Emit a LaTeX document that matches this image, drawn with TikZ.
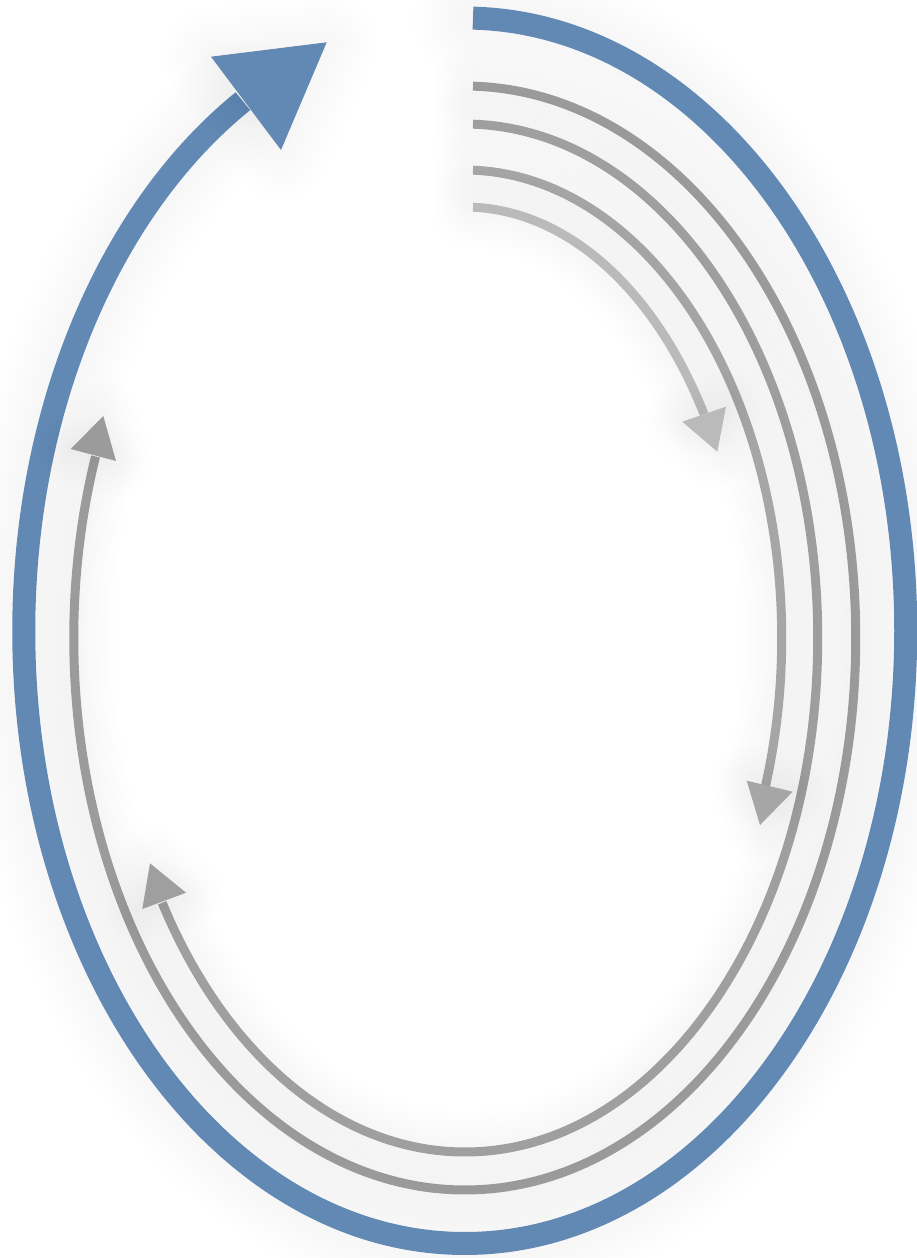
\documentclass[tikz,border=0pt]{standalone}
\usetikzlibrary{calc}
\definecolor{arrowblue}{RGB}{98,137,179}
\definecolor{grayA}{RGB}{155,155,155}
\definecolor{grayB}{RGB}{159,159,159}
\definecolor{grayC}{RGB}{166,166,166}
\definecolor{grayD}{RGB}{186,186,186}
\begin{document}
\begin{tikzpicture}[x=1pt,y=1pt,
  glowlayer/.style={draw=black,draw opacity=0.0045,line width=#1,line join=round,line cap=round},
  blueglow/.style={preaction={glowlayer=119pt},preaction={glowlayer=107pt},preaction={glowlayer=95pt},preaction={glowlayer=83pt},preaction={glowlayer=71pt},preaction={glowlayer=59pt},preaction={glowlayer=47pt},preaction={glowlayer=35pt}},
  grayglow/.style={preaction={glowlayer=81pt},preaction={glowlayer=72pt},preaction={glowlayer=63pt},preaction={glowlayer=54pt},preaction={glowlayer=45pt},preaction={glowlayer=36pt},preaction={glowlayer=27pt},preaction={glowlayer=18pt}},
  bluetriglow/.style={preaction={glowlayer=96pt},preaction={glowlayer=84pt},preaction={glowlayer=72pt},preaction={glowlayer=60pt},preaction={glowlayer=48pt},preaction={glowlayer=36pt},preaction={glowlayer=24pt},preaction={glowlayer=12pt}},
  graytriglow/.style={preaction={glowlayer=72pt},preaction={glowlayer=63pt},preaction={glowlayer=54pt},preaction={glowlayer=45pt},preaction={glowlayer=36pt},preaction={glowlayer=27pt},preaction={glowlayer=18pt},preaction={glowlayer=9pt}},
  bluearc/.style={draw=arrowblue,line width=23pt,blueglow},
  grayarc/.style={draw=#1,line width=9pt,grayglow},
  bluehead/.style={fill=arrowblue,bluetriglow},
  grayhead/.style={fill=#1,graytriglow}
]
\useasboundingbox (0,0) rectangle (917,-1258);
\coordinate (cO) at (464.75,-630.75);
\coordinate (cI) at (464.75,-638);
% outer blue cycle
\draw[bluearc] ($(cO)+(88.93:441pt and 612.75pt)$) coordinate (bS)
  arc[start angle=88.93,end angle=-239.8,x radius=441pt,y radius=612.75pt] coordinate (bE);
\coordinate (bT) at (326.7,-42.3);
\coordinate (bL) at (211,-56.7);
\coordinate (bR) at (281,-150);
\fill[bluehead] (bT) -- (bL) -- (bR) -- cycle;
% gray arc A
\draw[grayarc=grayA] ($(cI)+(88.79:391pt and 552pt)$) coordinate (aS)
  arc[start angle=88.79,end angle=-199.2,x radius=391pt,y radius=552pt] coordinate (aE);
\coordinate (aT) at (103.3,-416);
\coordinate (aL) at (70.7,-449);
\coordinate (aR) at (116,-461);
\fill[grayhead=grayA] (aT) -- (aL) -- (aR) -- cycle;
% gray arc B
\draw[grayarc=grayB] ($(cI)+(88.66:353pt and 514pt)$) coordinate (b2S)
  arc[start angle=88.66,end angle=-149,x radius=353pt,y radius=514pt] coordinate (b2E);
\coordinate (b2T) at (150,-863.3);
\coordinate (b2L) at (142.3,-909);
\coordinate (b2R) at (186,-892.7);
\fill[grayhead=grayB] (b2T) -- (b2L) -- (b2R) -- cycle;
% gray arc C
\draw[grayarc=grayC] ($(cI)+(88.51:317pt and 468pt)$) coordinate (cS)
  arc[start angle=88.51,end angle=-18.8,x radius=317pt,y radius=468pt] coordinate (cE);
\coordinate (cT) at (760,-825);
\coordinate (cL) at (746.7,-780.7);
\coordinate (cR) at (792.7,-791.7);
\fill[grayhead=grayC] (cT) -- (cL) -- (cR) -- cycle;
% gray arc D
\draw[grayarc=grayD] ($(cI)+(88.31:280pt and 431pt)$) coordinate (dS)
  arc[start angle=88.31,end angle=31.3,x radius=280pt,y radius=431pt] coordinate (dE);
\coordinate (dT) at (717.3,-451.7);
\coordinate (dL) at (682.3,-421.7);
\coordinate (dR) at (726,-406.7);
\fill[grayhead=grayD] (dT) -- (dL) -- (dR) -- cycle;
\end{tikzpicture}
\end{document}
